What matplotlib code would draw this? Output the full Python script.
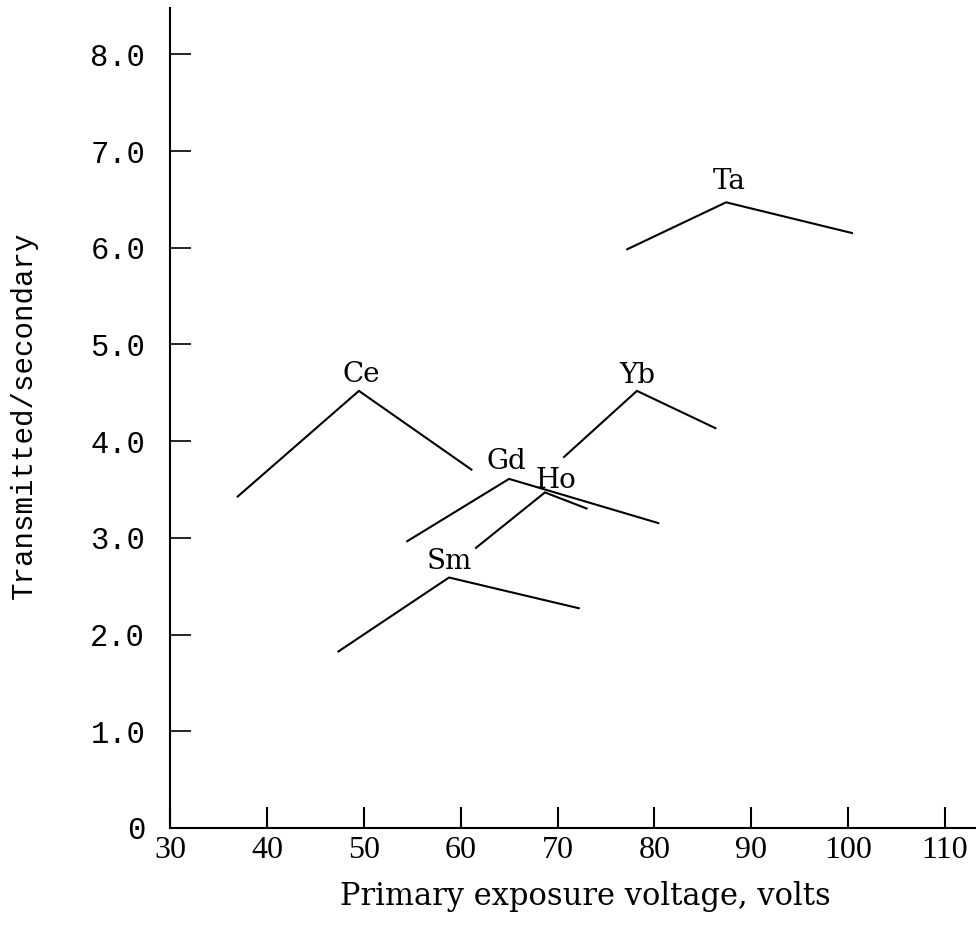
"""Transmitted/secondary ratio vs primary exposure voltage"""

import matplotlib

matplotlib.use("Agg")
import matplotlib.pyplot as plt

# each element: three readings (left, peak, right)
elements = ["Ce", "Gd", "Ho", "Yb", "Ta", "Sm"]
voltages = [
    [36.9, 49.5, 61.2],
    [54.4, 65.0, 80.5],
    [61.5, 68.7, 73.1],
    [70.6, 78.2, 86.4],
    [77.1, 87.4, 100.5],
    [47.3, 58.8, 72.3],
]
ratios = [
    [3.42, 4.52, 3.70],
    [2.96, 3.61, 3.15],
    [2.89, 3.47, 3.30],
    [3.83, 4.52, 4.13],
    [5.98, 6.47, 6.15],
    [1.82, 2.59, 2.27],
]

x_ticks = [30, 40, 50, 60, 70, 80, 90, 100, 110]
y_ticks = [0, 1, 2, 3, 4, 5, 6, 7, 8]
y_tick_labels = ["0", "1.0", "2.0", "3.0", "4.0", "5.0", "6.0", "7.0", "8.0"]

# label offsets (points) from each peak
label_offsets = {"Ce": (2, 2), "Gd": (-2, 3), "Ho": (8, -1), "Yb": (0, 1),
                 "Ta": (2, 5), "Sm": (0, 2)}


def main() -> None:
    fig = plt.figure(figsize=(9.76, 9.25), dpi=100)
    ax = fig.add_axes([0.1742, 0.1049, 0.8258, 0.8865])

    for name, xs, ys in zip(elements, voltages, ratios):
        ax.plot(xs, ys, color="black", linewidth=1.5, solid_capstyle="butt")
        dx, dy = label_offsets[name]
        ax.annotate(
            name,
            xy=(xs[1], ys[1]),
            xytext=(dx, dy),
            textcoords="offset points",
            ha="center",
            va="bottom",
            fontsize=20,
            family="DejaVu Serif",
        )

    ax.set_xlim(30, 113.2)
    ax.set_ylim(0, 8.48)
    for side in ("top", "right"):
        ax.spines[side].set_visible(False)
    for side in ("left", "bottom"):
        ax.spines[side].set_linewidth(1.5)

    ax.set_xticks(x_ticks)
    ax.set_xticklabels([str(v) for v in x_ticks], family="Liberation Serif",
                       fontsize=23)
    ax.set_yticks(y_ticks)
    ax.set_yticklabels(y_tick_labels, family="Liberation Mono", fontsize=22)
    ax.tick_params(axis="x", direction="in", length=15, width=1.5, pad=6)
    ax.tick_params(axis="y", direction="in", length=15, width=1.2, pad=18)

    ax.set_xlabel("Primary exposure voltage, volts", family="DejaVu Serif",
                  fontsize=22)
    ax.set_ylabel("Transmitted/secondary", family="Liberation Mono",
                  fontsize=21)

    # place axis titles in figure pixels
    ax.xaxis.set_label_coords(585 / 976, 1 - 896 / 925,
                              transform=fig.transFigure)
    ax.yaxis.set_label_coords(24 / 976, 1 - 415 / 925,
                              transform=fig.transFigure)
    ax.xaxis.label.set_va("center")
    ax.yaxis.label.set_va("center")

    fig.savefig("out.png", dpi=100)
    plt.close(fig)


if __name__ == "__main__":
    main()
